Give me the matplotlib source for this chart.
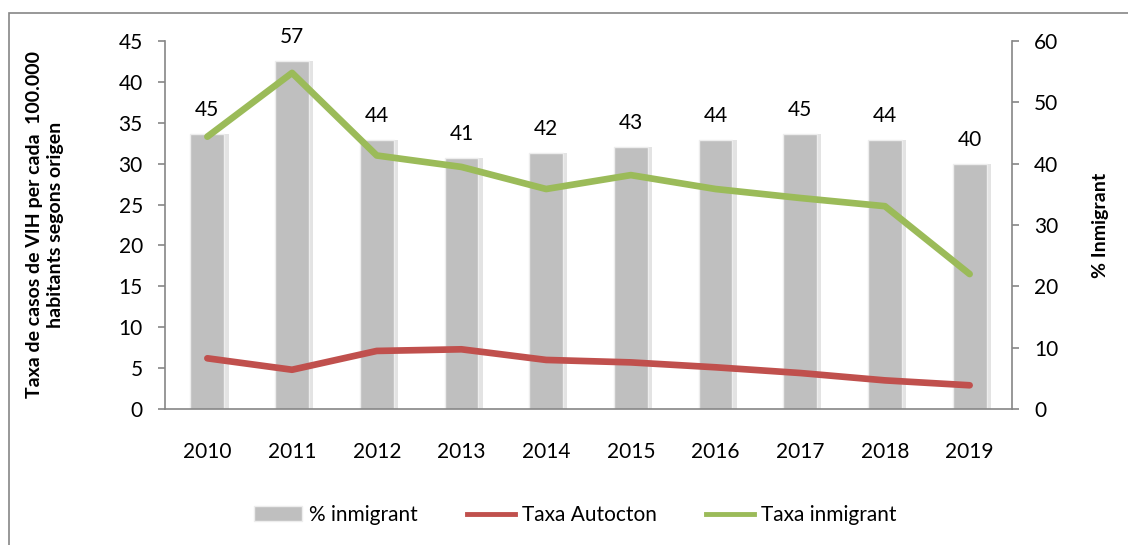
import matplotlib.pyplot as plt
from matplotlib.lines import Line2D
from matplotlib.patches import Patch, Rectangle
import numpy as np

plt.rcParams['font.family'] = ['Lato', 'DejaVu Sans']

# dades llegides del grafic
anys = ['2010', '2011', '2012', '2013', '2014', '2015', '2016', '2017', '2018', '2019']
pct_inmigrant = [44.8, 56.8, 43.9, 41.0, 41.8, 42.7, 43.9, 44.8, 43.9, 39.9]
pct_etiquetes = ['45', '57', '44', '41', '42', '43', '44', '45', '44', '40']
taxa_autocton = [6.2, 4.8, 7.1, 7.3, 6.0, 5.7, 5.1, 4.4, 3.5, 2.9]
taxa_inmigrant = [33.3, 41.1, 31.0, 29.6, 26.9, 28.6, 26.9, 25.8, 24.8, 16.5]

gris = '#BFBFBF'
vermell = '#C0504D'
verd = '#9BBB59'
eix = '#868686'
mida = 15

fig = plt.figure(figsize=(11.28, 5.45), dpi=100)
# marc exterior del grafic (tallat a la dreta i a baix)
fig.patches.append(Rectangle((9 / 1128, -0.1), 1.2, 1.1 - 13 / 545, transform=fig.transFigure,
                             fill=False, edgecolor=eix, linewidth=1.2))

ax = fig.add_axes([165 / 1128, 136 / 545, 847 / 1128, 368 / 545])
ax2 = ax.twinx()
x = np.arange(len(anys))

# barres al eix dret, amb una ombra suau
ax2.bar(x + 0.04, pct_inmigrant, width=0.42, color='#E3E3E3', zorder=1)
barres = ax2.bar(x, pct_inmigrant, width=0.4, color=gris, edgecolor='#EDEDED', linewidth=1, zorder=2)
ax2.bar_label(barres, labels=pct_etiquetes, padding=10, fontsize=mida)
ax2.set_ylim(0, 60)
ax2.set_yticks(range(0, 61, 10))

# linies a l'eix esquerre, per sobre de les barres
ax.set_zorder(ax2.get_zorder() + 1)
ax.patch.set_visible(False)
ax.plot(x, taxa_autocton, color=vermell, lw=4.8, solid_capstyle='round', solid_joinstyle='round')
ax.plot(x, taxa_inmigrant, color=verd, lw=4.8, solid_capstyle='round', solid_joinstyle='round')
ax.set_ylim(0, 45)
ax.set_yticks(range(0, 46, 5))
ax.set_xlim(-0.5, len(anys) - 0.5)
ax.set_xticks(x)
ax.set_xticklabels(anys)

for a in (ax, ax2):
    for s in a.spines.values():
        s.set_visible(False)
ax.spines['left'].set_visible(True)
ax.spines['bottom'].set_visible(True)
ax2.spines['right'].set_visible(True)
for s in (ax.spines['left'], ax.spines['bottom'], ax2.spines['right']):
    s.set_color(eix)
    s.set_linewidth(1.2)

ax.tick_params(axis='y', length=5, width=1.2, color=eix, pad=11, labelsize=mida)
ax.tick_params(axis='x', length=0, pad=24, labelsize=mida)
ax2.tick_params(axis='y', length=5, width=1.2, color=eix, pad=11, labelsize=mida)

ax.set_ylabel('Taxa de casos de VIH per cada  100.000\nhabitants segons origen',
              fontsize=14, fontweight='bold', labelpad=39, linespacing=1.3)
ax2.set_ylabel('% Inmigrant', fontsize=14, fontweight='bold', labelpad=24)

handles = [Patch(facecolor=gris, edgecolor='#EDEDED'),
           Line2D([0], [0], color=vermell, lw=3.5),
           Line2D([0], [0], color=verd, lw=3.5)]
fig.legend(handles, ['% inmigrant', 'Taxa Autocton', 'Taxa inmigrant'],
           loc='center', bbox_to_anchor=(0.51, 0.055), ncol=3, frameon=False,
           fontsize=mida, handlelength=2.3, columnspacing=2.4, handletextpad=0.3)

fig.savefig('out.png', dpi=100)
